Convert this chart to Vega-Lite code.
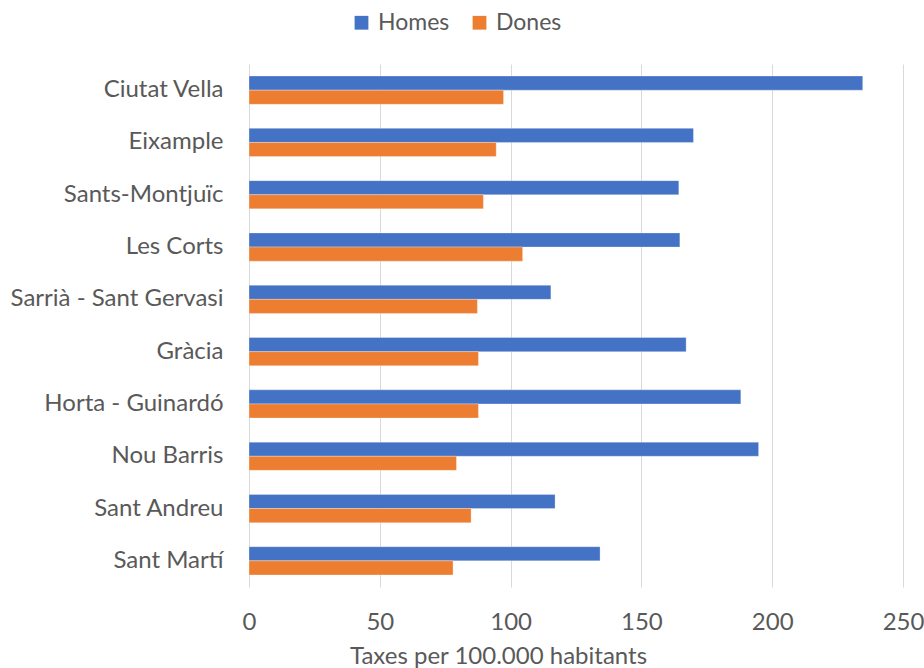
{
  "$schema": "https://vega.github.io/schema/vega-lite/v6.json",
  "autosize": "none",
  "width": 654,
  "height": 523,
  "padding": {"left": 249, "top": 64, "right": 21, "bottom": 81},
  "background": "white",
  "config": {
    "font": "Lato",
    "view": {"stroke": null}
  },
  "data": {
    "values": [
      {"districte": "Ciutat Vella", "sexe": "Homes", "taxa": 234.6},
      {"districte": "Ciutat Vella", "sexe": "Dones", "taxa": 97.3},
      {"districte": "Eixample", "sexe": "Homes", "taxa": 169.9},
      {"districte": "Eixample", "sexe": "Dones", "taxa": 94.5},
      {"districte": "Sants-Montjuïc", "sexe": "Homes", "taxa": 164.3},
      {"districte": "Sants-Montjuïc", "sexe": "Dones", "taxa": 89.6},
      {"districte": "Les Corts", "sexe": "Homes", "taxa": 164.7},
      {"districte": "Les Corts", "sexe": "Dones", "taxa": 104.6},
      {"districte": "Sarrià - Sant Gervasi", "sexe": "Homes", "taxa": 115.4},
      {"districte": "Sarrià - Sant Gervasi", "sexe": "Dones", "taxa": 87.3},
      {"districte": "Gràcia", "sexe": "Homes", "taxa": 167.1},
      {"districte": "Gràcia", "sexe": "Dones", "taxa": 87.7},
      {"districte": "Horta - Guinardó", "sexe": "Homes", "taxa": 188.0},
      {"districte": "Horta - Guinardó", "sexe": "Dones", "taxa": 87.7},
      {"districte": "Nou Barris", "sexe": "Homes", "taxa": 194.8},
      {"districte": "Nou Barris", "sexe": "Dones", "taxa": 79.3},
      {"districte": "Sant Andreu", "sexe": "Homes", "taxa": 117.0},
      {"districte": "Sant Andreu", "sexe": "Dones", "taxa": 84.9},
      {"districte": "Sant Martí", "sexe": "Homes", "taxa": 134.2},
      {"districte": "Sant Martí", "sexe": "Dones", "taxa": 78.0}
    ]
  },
  "mark": {"type": "bar", "stroke": "white", "strokeWidth": 0.5, "strokeOpacity": 0.6},
  "encoding": {
    "y": {
      "field": "districte",
      "type": "nominal",
      "sort": null,
      "scale": {"paddingInner": 0.46, "paddingOuter": 0.23},
      "axis": {
        "title": null,
        "domain": false,
        "ticks": false,
        "labelFontSize": 24,
        "labelColor": "#595959",
        "labelPadding": 26,
        "labelLimit": 300
      }
    },
    "yOffset": {
      "field": "sexe",
      "type": "nominal",
      "sort": ["Homes", "Dones"],
      "scale": {"paddingInner": 0, "paddingOuter": 0}
    },
    "x": {
      "field": "taxa",
      "type": "quantitative",
      "scale": {"domain": [0, 250], "nice": false},
      "axis": {
        "title": "Taxes per 100.000 habitants",
        "values": [0, 50, 100, 150, 200, 250],
        "domain": false,
        "ticks": false,
        "grid": true,
        "gridColor": "#d9d9d9",
        "gridWidth": 1,
        "labelFontSize": 24,
        "labelColor": "#595959",
        "labelPadding": 23,
        "labelFlush": false,
        "titleFontSize": 24,
        "titleFontWeight": "normal",
        "titleColor": "#595959",
        "titleX": 249,
        "titleY": 76,
        "titleAlign": "center",
        "titleBaseline": "alphabetic"
      }
    },
    "color": {
      "field": "sexe",
      "type": "nominal",
      "sort": ["Homes", "Dones"],
      "scale": {"domain": ["Homes", "Dones"], "range": ["#4472C4", "#ED7D31"]},
      "legend": {
        "title": null,
        "orient": "none",
        "direction": "horizontal",
        "legendX": 101,
        "legendY": -53,
        "symbolType": "square",
        "symbolSize": 190,
        "symbolStrokeWidth": 0,
        "labelFontSize": 23,
        "labelColor": "#595959",
        "labelOffset": 5,
        "columnPadding": 18
      }
    }
  }
}
